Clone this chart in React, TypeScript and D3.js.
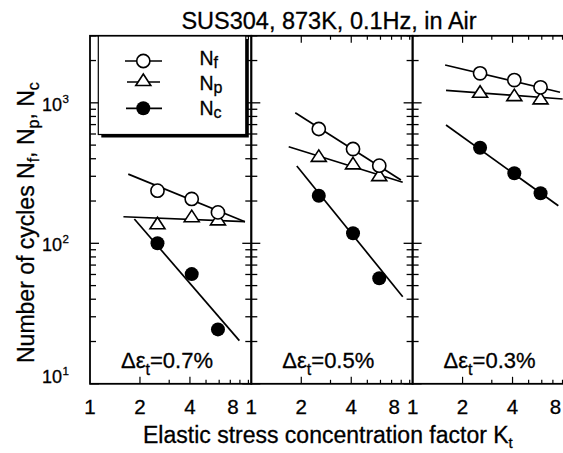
import React from "react";
import * as d3 from "d3";

// Kt values of notched specimens (same for every panel)
const ktValues = [2.55, 4.1, 5.9];
const strainRanges = ["0.7", "0.5", "0.3"];
// Nf, Np, Nc for each panel (Δεt = 0.7, 0.5, 0.3 %)
const nfValues = [[237, 207, 166], [651, 469, 357], [1622, 1452, 1289]];
const npValues = [[139, 156, 148], [419, 371, 306], [1199, 1135, 1076]];
const ncValues = [[100, 60.4, 24.4], [218, 118, 56.4], [479, 315, 227]];
// fitted lines: [Kt start, N start, Kt end, N end]
const nfLines = [[1.7, 311, 8.58, 142.6], [1.84, 851, 7.97, 282], [1.57, 1858, 7.73, 1189]];
const npLines = [[1.59, 154.5, 8.58, 142.6], [1.68, 487, 8.17, 272], [1.59, 1228, 8.02, 1065]];
const ncLines = [[1.85, 149, 7.94, 20.3], [1.88, 355, 8.17, 41.7], [1.59, 695, 7.55, 185]];
const xTickValues = [1, 2, 3, 4, 5, 6, 7, 8, 9];
const xLongTicks = [2, 4];
const xTickLabels = [1, 2, 4, 8];
const yDecades = [10, 100, 1000];
const yDecadeExp = ["1", "2", "3"];

const FONT = "'Liberation Sans', Arial, Helvetica, sans-serif";
const TS = { stroke: "#000", strokeWidth: 0.3 };

export default function App() {
  const left = 90;
  const panelW = 161.3;
  const top = 35.8;
  const bottom = 383.8;
  const pxPerDecade = 166;
  const xMax = Math.pow(10, panelW / pxPerDecade);

  const y = d3.scaleLog().domain([10, 3000]).range([bottom, top]);
  const xs = [0, 1, 2].map((i) =>
    d3.scaleLog().domain([1, xMax]).range([left + i * panelW, left + (i + 1) * panelW])
  );

  const yMinor: number[] = [];
  [10, 100, 1000].forEach((d) => {
    for (let m = 2; m <= 9; m++) if (d * m <= 3000) yMinor.push(d * m);
  });

  const line = d3
    .line<[number, number]>()
    .x((d) => d[0])
    .y((d) => d[1]);

  const tri = (cx: number, cy: number) =>
    `M${cx},${cy - 6} L${cx + 7.5},${cy + 5.5} L${cx - 7.5},${cy + 5.5} Z`;

  const stroke = "#000";

  return (
    <svg width={563} height={453} style={{ position: "absolute", left: 0, top: 0, background: "#fff" }}>
      <rect x={0} y={0} width={563} height={453} fill="#fff" />
      {/* Title */}
      <text x={329} y={28.5} textAnchor="middle" fontFamily={FONT} fontSize={23.5} {...TS}>
        SUS304, 873K, 0.1Hz, in Air
      </text>

      {xs.map((x, pi) => {
        const x0 = x.range()[0];
        const x1 = x.range()[1];
        const fit = (arr: number[]) =>
          line([
            [x(arr[0]), y(arr[1])],
            [x(arr[2]), y(arr[3])],
          ]) as string;
        return (
          <g key={pi}>
            {/* frame */}
            <rect x={x0} y={top} width={x1 - x0} height={bottom - top} fill="none" stroke={stroke} strokeWidth={1.8} />
            {/* y ticks both sides */}
            {yDecades.map((v) => (
              <g key={"M" + v}>
                <line x1={x0} x2={x0 + 9} y1={y(v)} y2={y(v)} stroke={stroke} strokeWidth={1.3} />
                <line x1={x1} x2={x1 - 9} y1={y(v)} y2={y(v)} stroke={stroke} strokeWidth={1.3} />
              </g>
            ))}
            {yMinor.map((v) => (
              <g key={"m" + v}>
                <line x1={x0} x2={x0 + 6} y1={y(v)} y2={y(v)} stroke={stroke} strokeWidth={1.3} />
                <line x1={x1} x2={x1 - 6} y1={y(v)} y2={y(v)} stroke={stroke} strokeWidth={1.3} />
              </g>
            ))}
            {/* x ticks top and bottom */}
            {xTickValues.slice(1).map((v) => {
              const len = xLongTicks.includes(v) ? 7 : 4;
              return (
                <g key={"x" + v}>
                  <line x1={x(v)} x2={x(v)} y1={bottom} y2={bottom - len} stroke={stroke} strokeWidth={1.2} />
                  <line x1={x(v)} x2={x(v)} y1={top} y2={top + len} stroke={stroke} strokeWidth={1.2} />
                </g>
              );
            })}
            {/* x tick labels */}
            {xTickLabels.map((v) => (
              <text
                key={"xl" + v}
                x={x(v) + (v === 8 ? -7 : 0)}
                y={413.5}
                textAnchor="middle"
                fontFamily={FONT}
                fontSize={20.5}
                {...TS}
              >
                {v}
              </text>
            ))}
            {/* fitted lines */}
            <path d={fit(nfLines[pi])} stroke={stroke} strokeWidth={1.7} fill="none" />
            <path d={fit(npLines[pi])} stroke={stroke} strokeWidth={1.7} fill="none" />
            <path d={fit(ncLines[pi])} stroke={stroke} strokeWidth={1.7} fill="none" />
            {/* markers */}
            {ktValues.map((k, j) => (
              <g key={"p" + j}>
                <path d={tri(x(k), y(npValues[pi][j]))} fill="#fff" stroke={stroke} strokeWidth={1.6} />
                <circle cx={x(k)} cy={y(nfValues[pi][j])} r={6.6} fill="#fff" stroke={stroke} strokeWidth={1.6} />
                <circle cx={x(k)} cy={y(ncValues[pi][j])} r={7} fill="#000" />
              </g>
            ))}
            {/* panel label */}
            <text x={x0 + 77} y={368} textAnchor="middle" fontFamily={FONT} fontSize={22} {...TS}>
              Δε
              <tspan fontSize={16} dy={7}>t</tspan>
              <tspan dy={-7}>={strainRanges[pi]}%</tspan>
            </text>
          </g>
        );
      })}

      {/* y tick labels */}
      {yDecades.map((v, i) => (
        <g key={"yl" + v}>
          <text x={62} y={y(v) + (i === 0 ? -0.5 : 8)} textAnchor="end" fontFamily={FONT} fontSize={18} {...TS}>
            10
          </text>
          <text x={62.5} y={y(v) + (i === 0 ? -8.5 : 0)} textAnchor="start" fontFamily={FONT} fontSize={11.5} {...TS}>
            {yDecadeExp[i]}
          </text>
        </g>
      ))}

      {/* Legend */}
      <rect x={101.3} y={39} width={147.5} height={98.5} fill="#000" />
      <rect x={98.3} y={36} width={147.5} height={98.5} fill="#fff" stroke={stroke} strokeWidth={1.2} />
      <line x1={125} x2={162} y1={61} y2={61} stroke={stroke} strokeWidth={1.7} />
      <circle cx={143.3} cy={61} r={6.6} fill="#fff" stroke={stroke} strokeWidth={1.6} />
      <line x1={127} x2={160} y1={82} y2={82} stroke={stroke} strokeWidth={1.7} />
      <path d={tri(143.3, 80)} fill="#fff" stroke={stroke} strokeWidth={1.6} />
      <line x1={126} x2={162} y1={108.3} y2={108.3} stroke={stroke} strokeWidth={1.7} />
      <circle cx={143.3} cy={108.3} r={7} fill="#000" />
      {[
        ["f", 65],
        ["p", 90],
        ["c", 115],
      ].map(([s, by]) => (
        <text key={s as string} x={199.5} y={by as number} fontFamily={FONT} fontSize={19.5} {...TS}>
          N<tspan fontSize={16} dy={3}>{s}</tspan>
        </text>
      ))}

      {/* Axis titles */}
      <text x={143} y={443} fontFamily={FONT} fontSize={23} {...TS}>
        Elastic stress concentration factor K<tspan fontSize={15} dy={5}>t</tspan>
      </text>
      <text transform="translate(33.5,363) rotate(-90)" fontFamily={FONT} fontSize={23} {...TS}>
        Number of cycles N<tspan fontSize={16} dy={5}>f</tspan>
        <tspan dy={-5}>, N</tspan>
        <tspan fontSize={16} dy={5}>p</tspan>
        <tspan dy={-5}>, N</tspan>
        <tspan fontSize={16} dy={5}>c</tspan>
      </text>
    </svg>
  );
}
